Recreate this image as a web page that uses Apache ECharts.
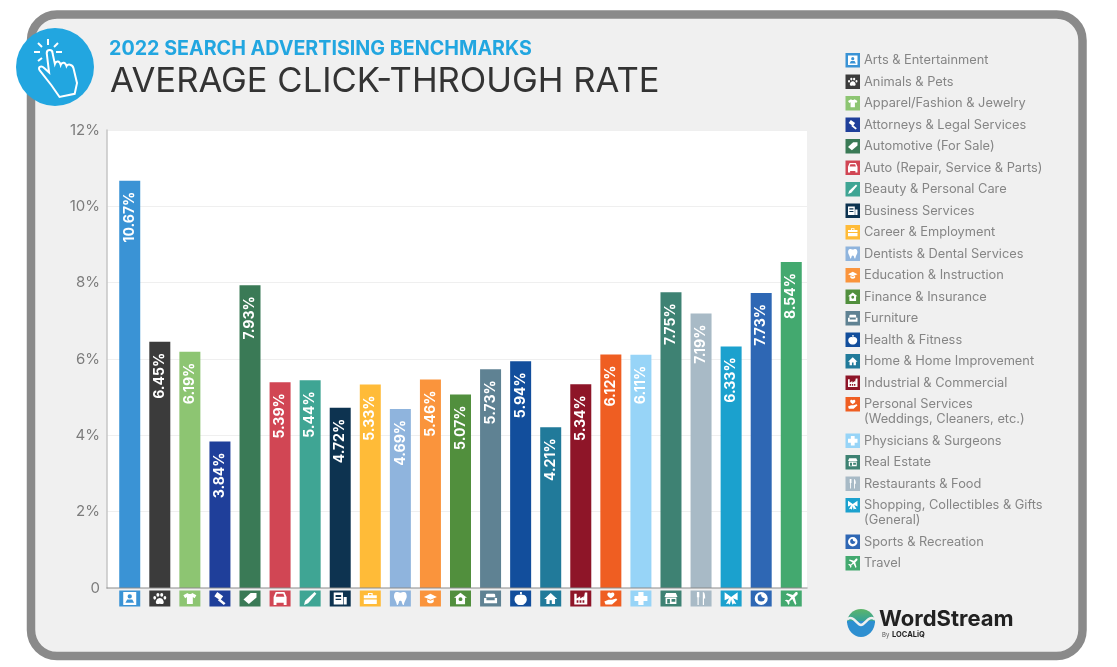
<!DOCTYPE html>
<html>
<head>
<meta charset="utf-8">
<style>html,body{margin:0;padding:0;background:#fff}#c{width:1117px;height:667px}</style>
<script src="https://cdn.jsdelivr.net/npm/echarts@6/dist/echarts.min.js"></script>
</head>
<body>
<div id="c"></div>
<script>
const categories = ["Arts & Entertainment","Animals & Pets","Apparel/Fashion & Jewelry","Attorneys & Legal Services","Automotive (For Sale)","Auto (Repair, Service & Parts)","Beauty & Personal Care","Business Services","Career & Employment","Dentists & Dental Services","Education & Instruction","Finance & Insurance","Furniture","Health & Fitness","Home & Home Improvement","Industrial & Commercial","Personal Services\n(Weddings, Cleaners, etc.)","Physicians & Surgeons","Real Estate","Restaurants & Food","Shopping, Collectibles & Gifts\n(General)","Sports & Recreation","Travel"];
const values = [10.67,6.45,6.19,3.84,7.93,5.39,5.44,4.72,5.33,4.69,5.46,5.07,5.73,5.94,4.21,5.34,6.12,6.11,7.75,7.19,6.33,7.73,8.54];
const colors = ["#3A93D5","#3B3B3B","#8DC572","#1F3F9A","#3A7A56","#D14654","#3FA594","#0D3350","#FFBB38","#8FB4DD","#FA943C","#518F3D","#5F8293","#124E9C","#217A9A","#8E1528","#EF5E22","#97D4F7","#3E8273","#A8BAC6","#1BA1CE","#2E67B4","#43A96F"];
const yTicks = {min:0,max:12,interval:2};
const titleTop = "2022 SEARCH ADVERTISING BENCHMARKS";
const titleMain = "AVERAGE CLICK-THROUGH RATE";
const icons = [
"M3 3H21V21H3Z M12 6A3 3 0 1 0 12 12A3 3 0 1 0 12 6Z M6 18H18L15.5 13.5H8.5Z",
"M12 11C16 11 19 16 18 19C17 22 14 20 12 20C10 20 7 22 6 19C5 16 8 11 12 11Z M9 3A2.4 3 0 1 1 8.99 3Z M15 3A2.4 3 0 1 1 14.99 3Z M4 8A2.2 2.8 0 1 1 3.99 8Z M20 8A2.2 2.8 0 1 1 19.99 8Z",
"M8 3L1 7L4 12L7 10V22H17V10L20 12L23 7L16 3C15 5.5 9 5.5 8 3Z",
"M9 1L19 8L14 15L4 8Z M13 12L23 20L20 23L10 15Z",
"M1 15L13 4H23V12L10 23Z",
"M6 3H18L21 10V21H17V18H7V21H3V10Z M7.5 5.5L6 9.5H18L16.5 5.5Z",
"M20 1L23 4L9 20L2 23L4 16Z",
"M2 3H17V22H2Z M5 7V10H14V7Z M5 13V15H14V13Z M18 10H23V22H18Z",
"M8 3H16V7H23V12H1V7H8Z M10 5V7H14V5Z M1 14H23V22H1Z",
"M7 3C9 3 10 4 12 4C14 4 15 3 17 3C20 3 21 6 21 9C21 13 18 15 17 21C16 22 15 21 14 17C13.5 15 10.5 15 10 17C9 21 8 22 7 21C6 15 3 13 3 9C3 6 4 3 7 3Z",
"M12 3L24 9L12 14L0 9Z M6 13L12 16L18 13V18C15 21 9 21 6 18Z",
"M12 3L22 11H19V21H5V11H2Z M12 10A3 3 0 1 0 12 16A3 3 0 1 0 12 10Z",
"M6 4H18C20 4 20 7 20 10H4C4 7 4 4 6 4Z M1 11H5V15H19V11H23V20H1Z",
"M12 6C18 4 22 8 22 13C22 18 17 23 12 22C7 23 2 18 2 13C2 8 6 4 12 6Z M11 1H14V5H11Z M3 14L21 12V14L3 16Z",
"M12 2L24 13H20V22H14V15H10V22H4V13H0Z",
"M1 22V4H5V12L11 8V12L17 8V12L19 2H23V22Z M5 15V19H8V15Z M10 15V19H13V15Z M15 15V19H18V15Z",
"M12 2C13 0 18 0 18 4C18 7 14 9 12 11C10 9 6 7 6 4C6 0 11 0 12 2Z M1 16L8 13H14L21 11L23 13L14 21H3Z",
"M8 2H16V8H22V16H16V22H8V16H2V8H8Z",
"M3 2H21L24 9H0Z M2 10H22V22H2Z M5 13V21H10V13Z M13 13V18H20V13Z",
"M5 1H9V10H8V23H6V10H5Z M15 1C18 1 19 6 19 12H17V23H15Z",
"M12 11L2 4V16L9 13L4 22L8 21L10 23L12 15L14 23L16 21L20 22L15 13L22 16V4Z",
"M12 1A11 11 0 1 1 11.99 1Z M12 5A6 6 0 1 0 18 11C15 12 11 9 12 5Z",
"M19 1C22 1 23 2 22 5L17 10L20 21L18 23L13 13L8 17V21L6 23L4 18L0 15L3 14L7 15L11 10L2 5L4 3L14 6Z"
];

const chart = echarts.init(document.getElementById('c'), null, {renderer:'canvas'});
const FONT = 'Inter, "Noto Sans", sans-serif';

function legendRows(){
  let y = 60;
  return categories.map((name,i)=>{
    const row = {name,i,y};
    y += 21.5 + (name.indexOf('\n')>=0 ? 15 : 0);
    return row;
  });
}
function legendText(){
  return legendRows().map(r=>({type:'text',z:11,style:{text:r.name,x:864,y:r.y-7,fill:'#858585',font:'12.8px '+FONT,lineHeight:15,verticalAlign:'top'}}));
}
const logoGrad = new echarts.graphic.LinearGradient(0,0,0,1,[{offset:0,color:'#5DB56A'},{offset:1,color:'#2F9FA0'}]);
function decor(){
  const kids = [];
  legendRows().forEach(r=>{
    kids.push({type:'rect',shape:{x:845.5,y:r.y-7,width:14.5,height:14.5},style:{fill:colors[r.i]}});
    kids.push({type:'path',shape:{pathData:icons[r.i],x:848,y:r.y-4.5,width:9.5,height:9.5,layout:'center'},style:{fill:'#fff'}});
  });
  kids.push({type:'path',shape:{pathData:"M50 86L40 72C38 69 41 67 44 70L48 74L46 56C46 52 51 52 51 56L53 66C54 63 57 63 58 67C59 64 62 64 63 68C64 66 68 66 69 70L72 84L70 94L57 97Z",x:39,y:50,width:38,height:47,layout:'cover'},style:{fill:'none',stroke:'#fff',lineWidth:2}});
  kids.push({type:'path',shape:{pathData:"M0 14A14 14 0 0 1 28 14Z",x:847,y:609,width:28,height:14,layout:'cover'},style:{fill:logoGrad}});
  kids.push({type:'path',shape:{pathData:"M0 0A14 14 0 0 0 28 0Z",x:847,y:621,width:28,height:16,layout:'cover'},style:{fill:'#2E8FD0'}});
  kids.push({type:'path',shape:{pathData:"M847 621C853 617 857 625 861 625C865 625 869 617 875 621",x:847,y:618,width:28,height:7,layout:'cover'},style:{fill:'none',stroke:'#F0F0F0',lineWidth:2.5}});
  return {type:'group',children:kids};
}
chart.setOption({
  animation:false,
  backgroundColor:'#fff',
  graphic:{elements:[
    {type:'rect',z:-10,shape:{x:31,y:14.5,width:1051.5,height:641.5,r:26},style:{fill:'#F0F0F0',stroke:'#8A8A8A',lineWidth:8.5}},
    {type:'circle',z:1,shape:{cx:55,cy:67,r:39},style:{fill:'#22A6E0'}},
    {type:'line',z:11,shape:{x1:48,y1:39,x2:48,y2:45},style:{stroke:'#fff',lineWidth:2}},
    {type:'line',z:11,shape:{x1:38,y1:43,x2:42,y2:47},style:{stroke:'#fff',lineWidth:2}},
    {type:'line',z:11,shape:{x1:58,y1:43,x2:54,y2:47},style:{stroke:'#fff',lineWidth:2}},
    {type:'line',z:11,shape:{x1:34,y1:52,x2:40,y2:52},style:{stroke:'#fff',lineWidth:2}},
    {type:'line',z:11,shape:{x1:56,y1:52,x2:62,y2:52},style:{stroke:'#fff',lineWidth:2}},
    {type:'line',z:11,shape:{x1:38,y1:61,x2:42,y2:58},style:{stroke:'#fff',lineWidth:2}},
    {type:'text',z:11,style:{text:titleTop,x:109,y:49,fill:'#22A6E0',font:'bold 19.7px '+FONT,verticalAlign:'middle'}},
    {type:'text',z:11,style:{text:titleMain,x:110,y:82,fill:'#333',font:'34.6px '+FONT,verticalAlign:'middle'}},
    ...legendText(),
    {type:'text',z:11,style:{text:'WordStream',x:879,y:619,fill:'#222',font:'bold 22px '+FONT,verticalAlign:'middle'}},
    {type:'text',z:11,style:{text:'By',x:882,y:635,fill:'#555',font:'6px '+FONT,verticalAlign:'middle'}},
    {type:'text',z:11,style:{text:'LOCALiQ',x:892,y:634.5,fill:'#222',font:'bold 7.5px '+FONT,verticalAlign:'middle'}}
  ]},
  grid:[
    {left:107,top:130,width:700,height:458,show:true,backgroundColor:'#fff',borderWidth:0,z:0},
    {left:114.7,top:130,width:691.6,height:458,show:false}
  ],
  xAxis:[
    {gridIndex:0,type:'value',min:0,max:1,z:5,axisLine:{show:true,onZero:false,lineStyle:{color:'#888',width:1.5,opacity:.65}},axisTick:{show:false},axisLabel:{show:false},splitLine:{show:false}},
    {gridIndex:1,type:'category',data:categories,axisLine:{show:false},axisTick:{show:false},axisLabel:{show:false}}
  ],
  yAxis:[
    {gridIndex:0,type:'value',min:yTicks.min,max:yTicks.max,interval:yTicks.interval,
     axisLine:{show:true,lineStyle:{color:'#C6C6C6',width:1.5}},axisTick:{show:false},
     axisLabel:{color:'#7C7C7C',fontSize:15,fontFamily:FONT,margin:7,padding:[2,0,0,0],formatter:v=>v===0?'0':v+'%'},
     splitLine:{show:true,lineStyle:{color:'#EFEFEF',width:1}}},
    {gridIndex:1,type:'value',min:yTicks.min,max:yTicks.max,interval:yTicks.interval,show:false}
  ],
  series:[
    {type:'bar',xAxisIndex:1,yAxisIndex:1,barWidth:21,z:2,
     data:values.map((v,i)=>({value:v,itemStyle:{color:colors[i]}})),
     label:{show:true,position:'insideTop',distance:11,rotate:90,align:'right',verticalAlign:'middle',color:'#fff',fontWeight:'bold',fontSize:14,fontFamily:FONT,formatter:p=>p.value.toFixed(2)+'%'}},
    {type:'custom',xAxisIndex:1,yAxisIndex:1,z:3,clip:false,silent:true,data:categories.map((c,i)=>[i,0]),
     renderItem(params,api){
       const i=api.value(0), p=api.coord([i,0]);
       return {type:'group',children:[
         {type:'rect',shape:{x:p[0]-10.5,y:p[1]+2.5,width:21,height:16},style:{fill:colors[i]}},
         {type:'path',shape:{pathData:icons[i],x:p[0]-6.5,y:p[1]+4,width:13,height:13,layout:'center'},style:{fill:'#fff'}}
       ]};
     }},
    {type:'custom',coordinateSystem:'none',z:6,silent:true,data:[[0]],renderItem:decor}
  ]
});
</script>
</body>
</html>
